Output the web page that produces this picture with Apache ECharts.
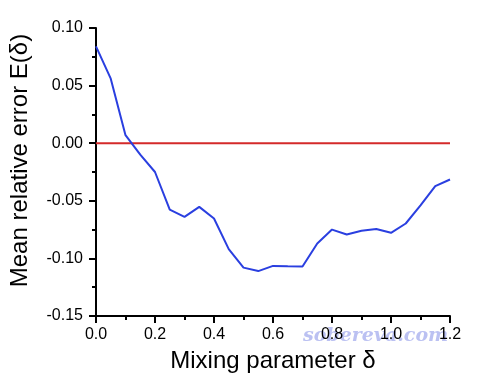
<!DOCTYPE html>
<html>
<head>
<meta charset="utf-8">
<script src="https://cdn.jsdelivr.net/npm/echarts@6/dist/echarts.min.js"></script>
<style>
html,body{margin:0;padding:0;background:#fff;}
#c{width:480px;height:382px;}
</style>
</head>
<body>
<div id="c"></div>
<script>
const deltaValues = [0.00,0.05,0.10,0.15,0.20,0.25,0.30,0.35,0.40,0.45,0.50,0.55,0.60,0.65,0.70,0.75,0.80,0.85,0.90,0.95,1.00,1.05,1.10,1.15,1.20];
const errorValues = [0.084,0.056,0.007,-0.010,-0.025,-0.0576,-0.064,-0.0553,-0.0654,-0.092,-0.108,-0.111,-0.1065,-0.1068,-0.107,-0.087,-0.075,-0.0793,-0.076,-0.0745,-0.0778,-0.0697,-0.054,-0.0373,-0.0315];
const zeroLineX = [0.0, 1.2];
const zeroLineY = [0.0, 0.0];
const xTickLabels = ['0.0','0.2','0.4','0.6','0.8','1.0','1.2'];
const yTickLabels = ['-0.15','-0.10','-0.05','0.00','0.05','0.10'];
const xTitle = 'Mixing parameter δ';
const yTitle = 'Mean relative error E(δ)';
const watermark = 'sobereva.com';

const chart = echarts.init(document.getElementById('c'), null, {renderer:'canvas'});
const font = 'Liberation Sans, Arial, sans-serif';
chart.setOption({
  animation:false,
  backgroundColor:'#fff',
  grid:{left:94,right:30,top:28,bottom:66,containLabel:false},
  xAxis:{
    type:'value',min:0,max:1.2,interval:0.2,
    name:xTitle,nameLocation:'middle',nameGap:33,
    nameTextStyle:{fontFamily:font,fontSize:24,color:'#000'},
    axisLine:{show:true,onZero:false,lineStyle:{color:'#000',width:2}},
    axisTick:{show:true,inside:false,length:7,lineStyle:{color:'#000',width:2}},
    minorTick:{show:true,splitNumber:2,length:4,lineStyle:{color:'#000',width:2}},
    splitLine:{show:false},
    axisLabel:{margin:11,fontFamily:font,fontSize:16,color:'#000',
      formatter:function(v){const i=Math.round(v/0.2);return xTickLabels[i]!==undefined?xTickLabels[i]:'';}}
  },
  yAxis:{
    type:'value',min:-0.15,max:0.10,interval:0.05,
    name:yTitle,nameLocation:'middle',nameGap:64,nameRotate:90,
    nameTextStyle:{fontFamily:font,fontSize:24,color:'#000',padding:[0,0,0,23]},
    axisLine:{show:true,lineStyle:{color:'#000',width:2}},
    axisTick:{show:true,inside:false,length:7,lineStyle:{color:'#000',width:2}},
    minorTick:{show:true,splitNumber:2,length:4,lineStyle:{color:'#000',width:2}},
    splitLine:{show:false},
    axisLabel:{margin:13,fontFamily:font,fontSize:16,color:'#000',
      formatter:function(v){const i=Math.round((v+0.15)/0.05);return yTickLabels[i]!==undefined?yTickLabels[i]:'';}}
  },
  series:[
    {type:'line',data:zeroLineX.map((x,i)=>[x,zeroLineY[i]]),symbol:'none',
      lineStyle:{color:'#d42a2a',width:2},z:2},
    {type:'line',data:deltaValues.map((x,i)=>[x,errorValues[i]]),symbol:'none',
      lineStyle:{color:'#2a3fe0',width:2},z:3}
  ],
  graphic:[{
    type:'text',left:303,top:327,z:-1,
    style:{text:watermark,fill:'rgba(150,160,235,0.65)',
      font:'italic bold 19px "DejaVu Serif", serif'}
  }]
});
</script>
</body>
</html>
